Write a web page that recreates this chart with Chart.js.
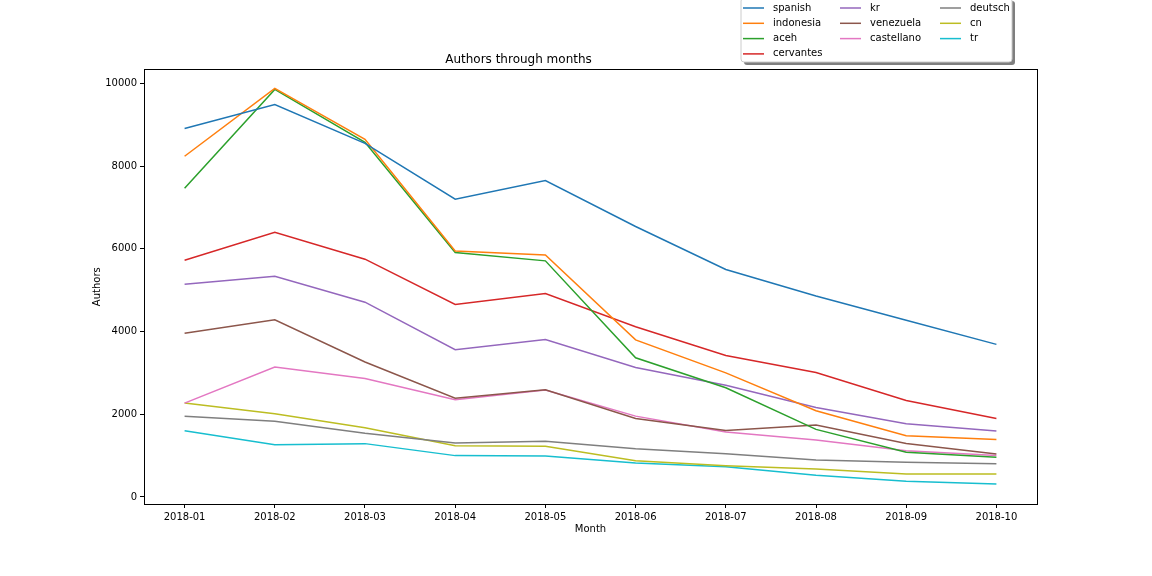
<!DOCTYPE html>
<html>
<head>
<meta charset="utf-8">
<script src="https://cdn.jsdelivr.net/npm/chart.js@4.4.1/dist/chart.umd.min.js"></script>
<style>
    html, body { margin: 0; padding: 0; background: #fff; }
    #wrap { width: 1152px; height: 576px; }
</style>
</head>
<body>
<div id="wrap"><canvas id="authorsChart" width="1152" height="576"></canvas></div>
<script>
const months = ['2018-01', '2018-02', '2018-03', '2018-04', '2018-05', '2018-06', '2018-07', '2018-08', '2018-09', '2018-10'];
const yTicks = [0, 2000, 4000, 6000, 8000, 10000];

const spanish = [8910, 9490, 8550, 7200, 7650, 6540, 5500, 4860, 4275, 3690];
const indonesia = [8240, 9880, 8650, 5950, 5850, 3800, 3000, 2085, 1480, 1390];
const aceh = [7465, 9855, 8575, 5910, 5710, 3365, 2640, 1635, 1080, 960];
const cervantes = [5725, 6400, 5750, 4655, 4920, 4115, 3420, 3010, 2335, 1900];
const kr = [5145, 5340, 4710, 3560, 3810, 3130, 2700, 2165, 1770, 1595];
const venezuela = [3960, 4285, 3265, 2390, 2595, 1900, 1610, 1740, 1295, 1040];
const castellano = [2270, 3140, 2865, 2350, 2585, 1955, 1570, 1380, 1120, 1000];
const deutsch = [1955, 1830, 1540, 1305, 1350, 1165, 1045, 895, 840, 805];
const cn = [2270, 2010, 1675, 1240, 1225, 875, 755, 675, 555, 555];
const tr = [1600, 1265, 1290, 1000, 990, 820, 730, 525, 380, 315];

const seriesNames = ['spanish', 'indonesia', 'aceh', 'cervantes', 'kr', 'venezuela', 'castellano', 'deutsch', 'cn', 'tr'];
const seriesValues = [spanish, indonesia, aceh, cervantes, kr, venezuela, castellano, deutsch, cn, tr];
const colors = ['#1f77b4', '#ff7f0e', '#2ca02c', '#d62728', '#9467bd', '#8c564b', '#e377c2', '#7f7f7f', '#bcbd22', '#17becf'];

const FONT = "'DejaVu Sans', sans-serif";

// matplotlib style legend, 3 columns, first column gets the extra entry
const mplLegend = {
    id: 'mplLegend',
    afterDraw(chart) {
        const ctx = chart.ctx;
        const sets = chart.data.datasets;
        const ncol = 3;
        const base = Math.floor(sets.length / ncol);
        const extra = sets.length % ncol;
        const box = { x: 741, y: -2, w: 271, h: 64 };
        ctx.save();
        // shadow
        ctx.fillStyle = 'rgba(0,0,0,0.5)';
        roundRect(ctx, box.x + 3, box.y + 3, box.w, box.h, 3);
        ctx.fill();
        ctx.fillStyle = '#fff';
        roundRect(ctx, box.x, box.y, box.w, box.h, 3);
        ctx.fill();
        ctx.strokeStyle = '#cccccc';
        ctx.lineWidth = 1;
        ctx.stroke();

        const colX = [743, 840, 940];
        ctx.font = '10px ' + FONT;
        ctx.textBaseline = 'middle';
        ctx.textAlign = 'left';
        let idx = 0;
        for (let col = 0; col < ncol; col++) {
            const n = base + (col < extra ? 1 : 0);
            for (let row = 0; row < n; row++, idx++) {
                const ds = sets[idx];
                const x = colX[col];
                const y = 8 + row * 15.3;
                ctx.strokeStyle = ds.borderColor;
                ctx.lineWidth = 1.5;
                ctx.beginPath();
                ctx.moveTo(x, y);
                ctx.lineTo(x + 21, y);
                ctx.stroke();
                ctx.fillStyle = '#000';
                ctx.fillText(ds.label, x + 30, y);
            }
        }
        // axes frame
        const a = chart.chartArea;
        ctx.strokeStyle = '#000';
        ctx.lineWidth = 1;
        ctx.strokeRect(Math.round(a.left) + 0.5, Math.round(a.top) + 0.5, Math.round(a.right - a.left), Math.round(a.bottom - a.top));
        ctx.restore();
    }
};

function roundRect(ctx, x, y, w, h, r) {
    ctx.beginPath();
    ctx.moveTo(x + r, y);
    ctx.lineTo(x + w - r, y);
    ctx.quadraticCurveTo(x + w, y, x + w, y + r);
    ctx.lineTo(x + w, y + h - r);
    ctx.quadraticCurveTo(x + w, y + h, x + w - r, y + h);
    ctx.lineTo(x + r, y + h);
    ctx.quadraticCurveTo(x, y + h, x, y + h - r);
    ctx.lineTo(x, y + r);
    ctx.quadraticCurveTo(x, y, x + r, y);
    ctx.closePath();
}

document.addEventListener('DOMContentLoaded', function () {
    const ctx = document.getElementById('authorsChart').getContext('2d');
    new Chart(ctx, {
        type: 'line',
        data: {
            datasets: seriesNames.map((name, i) => ({
                label: name,
                data: seriesValues[i].map((v, j) => ({ x: j, y: v })),
                borderColor: colors[i],
                backgroundColor: colors[i],
                borderWidth: 1.5,
                pointRadius: 0,
                tension: 0,
                fill: false
            }))
        },
        options: {
            responsive: false,
            animation: false,
            devicePixelRatio: 1,
            layout: { padding: { left: 0, right: 115, top: 0, bottom: 0 } },
            plugins: {
                legend: { display: false },
                tooltip: { enabled: false },
                title: {
                    display: true,
                    text: 'Authors through months',
                    color: '#000',
                    font: { family: FONT, size: 12, weight: 'normal' },
                    padding: { top: 53, bottom: 2 }
                }
            },
            scales: {
                x: {
                    type: 'linear',
                    min: -0.45,
                    max: 9.45,
                    afterBuildTicks(scale) {
                        scale.ticks = months.map((m, i) => ({ value: i }));
                    },
                    afterFit(scale) { scale.height = 72; },
                    ticks: {
                        color: '#000',
                        font: { family: FONT, size: 10 },
                        padding: 3,
                        maxRotation: 0,
                        autoSkip: false,
                        callback: (v) => months[v]
                    },
                    grid: { drawOnChartArea: false, drawTicks: true, tickLength: 4, color: '#000' },
                    border: { display: true, color: '#000' },
                    title: {
                        display: true,
                        text: 'Month',
                        color: '#000',
                        font: { family: FONT, size: 10 },
                        padding: { top: 0, bottom: 41 }
                    }
                },
                y: {
                    min: -170,
                    max: 10340,
                    afterBuildTicks(scale) {
                        scale.ticks = yTicks.map(v => ({ value: v }));
                    },
                    afterFit(scale) { scale.width = 144; },
                    ticks: {
                        color: '#000',
                        font: { family: FONT, size: 10 },
                        padding: 3,
                        callback: (v) => String(v)
                    },
                    grid: { drawOnChartArea: false, drawTicks: true, tickLength: 4, color: '#000' },
                    border: { display: true, color: '#000' },
                    title: {
                        display: true,
                        text: 'Authors',
                        color: '#000',
                        font: { family: FONT, size: 10 },
                        padding: { top: 91, bottom: 0 }
                    }
                }
            }
        },
        plugins: [mplLegend]
    });
});
</script>
</body>
</html>
